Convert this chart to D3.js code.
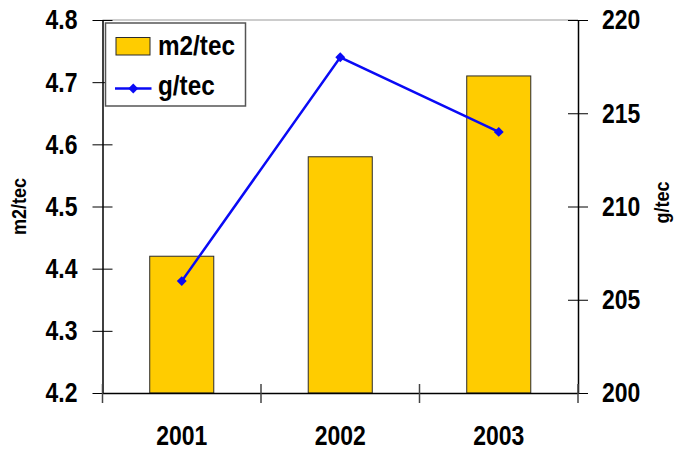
<!DOCTYPE html>
<html>
<head>
<meta charset="utf-8">
<script src="https://cdn.jsdelivr.net/npm/d3@7/dist/d3.min.js"></script>
<style>
  html, body { margin: 0; padding: 0; background: #fff; }
  svg { display: block; }
  text { font-family: "Liberation Sans", Arial, sans-serif; font-weight: bold; fill: #000; }
</style>
</head>
<body>
<script>
// Data
const years = ["2001", "2002", "2003"];
const areaPerTec = [4.42, 4.58, 4.71];   // m2/tec (bars, left axis)
const gramsPerTec = [206, 218, 214];     // g/tec (line, right axis)
const leftTicks = [4.2, 4.3, 4.4, 4.5, 4.6, 4.7, 4.8];
const rightTicks = [200, 205, 210, 215, 220];

const W = 674, H = 452;
const plot = { left: 102.5, right: 578, top: 20, bottom: 393 };
const FONT = "'Liberation Sans', Arial, sans-serif";

// condensed look: squeeze a text element horizontally around its own x
function narrow(sel, k) {
  sel.each(function () {
    const t = d3.select(this);
    const x0 = +t.attr("x") || 0;
    t.attr("x", x0 / k).attr("transform", `scale(${k},1)`);
  });
}

const svg = d3.select("body").append("svg").attr("width", W).attr("height", H);

const x = d3.scaleBand().domain(years).range([plot.left, plot.right]).paddingInner(0).paddingOuter(0);
const yL = d3.scaleLinear().domain([4.2, 4.8]).range([plot.bottom, plot.top]);
const yR = d3.scaleLinear().domain([200, 220]).range([plot.bottom, plot.top]);

// top frame line
svg.append("line")
  .attr("x1", plot.left).attr("x2", plot.right)
  .attr("y1", plot.top).attr("y2", plot.top)
  .attr("stroke", "#9a9a9a").attr("stroke-width", 1);

// bars
const barW = x.bandwidth() * 0.404;
svg.append("g").selectAll("rect").data(years).join("rect")
  .attr("x", (d) => x(d) + x.bandwidth() / 2 - barW / 2)
  .attr("width", barW)
  .attr("y", (d, i) => yL(areaPerTec[i]))
  .attr("height", (d, i) => yL(4.2) - yL(areaPerTec[i]))
  .attr("fill", "#FFCC00")
  .attr("stroke", "#2b2b2b").attr("stroke-width", 1);

// axes
const tickFont = "28px";
const axL = svg.append("g").attr("transform", `translate(${plot.left},0)`)
  .call(d3.axisLeft(yL).tickValues(leftTicks).tickFormat(d3.format(".1f")).tickSizeInner(10).tickSizeOuter(0).tickPadding(15));
const axR = svg.append("g").attr("transform", `translate(${plot.right},0)`)
  .call(d3.axisRight(yR).tickValues(rightTicks).tickFormat(d3.format("d")).tickSizeInner(10).tickSizeOuter(0).tickPadding(14));
const axB = svg.append("g").attr("transform", `translate(0,${plot.bottom})`)
  .call(d3.axisBottom(x).tickSize(0).tickPadding(32));

[axL, axR, axB].forEach(a => {
  a.select(".domain").attr("stroke", "#000").attr("stroke-width", 1.5);
  a.selectAll("text").style("font-size", tickFont).style("font-family", FONT).style("font-weight", "bold").attr("fill", "#000");
  a.selectAll(".tick line").attr("stroke", "#000").attr("stroke-width", 1);
  narrow(a.selectAll(".tick text"), 0.82);
});
// ticks cross the axis lines
axL.selectAll(".tick line").attr("x1", 10).attr("x2", -10);
axR.selectAll(".tick line").attr("x1", -10).attr("x2", 10);
axB.selectAll(".tick text").attr("dy", "0.71em");

// category separators crossing the bottom axis
const sepX = [plot.left, ...years.slice(1).map(d => x(d)), plot.right];
svg.append("g").selectAll("line").data(sepX).join("line")
  .attr("x1", d => d).attr("x2", d => d)
  .attr("y1", plot.bottom - 9).attr("y2", plot.bottom + 10)
  .attr("stroke", "#444").attr("stroke-width", 1.5);

// line series
const cx = (d) => x(d) + x.bandwidth() / 2;
const line = d3.line().x((d, i) => cx(years[i])).y(d => yR(d));
svg.append("path").datum(gramsPerTec)
  .attr("d", line)
  .attr("fill", "none").attr("stroke", "#0A0AF5").attr("stroke-width", 2.5);
svg.append("g").selectAll("rect").data(gramsPerTec).join("rect")
  .attr("x", (d, i) => cx(years[i]) - 3.5)
  .attr("y", d => yR(d) - 3.5)
  .attr("width", 7).attr("height", 7)
  .attr("transform", (d, i) => `rotate(45,${cx(years[i])},${yR(d)})`)
  .attr("fill", "#0A0AF5");

// axis titles
svg.append("text")
  .attr("transform", `translate(26,${(plot.top + plot.bottom) / 2}) rotate(-90) scale(0.9,1)`)
  .attr("text-anchor", "middle")
  .style("font-size", "20px")
  .text("m2/tec");
svg.append("text")
  .attr("transform", `translate(669,${(plot.top + plot.bottom) / 2 - 4}) rotate(-90) scale(0.9,1)`)
  .attr("text-anchor", "middle")
  .style("font-size", "20px")
  .text("g/tec");

// legend
const lg = svg.append("g");
lg.append("rect").attr("x", 105.5).attr("y", 23).attr("width", 140).attr("height", 83)
  .attr("fill", "#fff").attr("stroke", "#555").attr("stroke-width", 1.5);
lg.append("rect").attr("x", 116).attr("y", 37.5).attr("width", 34).attr("height", 17.5)
  .attr("fill", "#FFCC00").attr("stroke", "#2b2b2b").attr("stroke-width", 1);
lg.append("text").attr("x", 158).attr("y", 55).style("font-size", "27px").text("m2/tec");
lg.append("line").attr("x1", 115).attr("x2", 151.5).attr("y1", 88.5).attr("y2", 88.5)
  .attr("stroke", "#0A0AF5").attr("stroke-width", 2.5);
lg.append("rect").attr("x", 133.25 - 3.5).attr("y", 88.5 - 3.5).attr("width", 7).attr("height", 7)
  .attr("transform", "rotate(45,133.25,88.5)").attr("fill", "#0A0AF5");
lg.append("text").attr("x", 158).attr("y", 95).style("font-size", "27px").text("g/tec");
narrow(lg.selectAll("text"), 0.9);
</script>
</body>
</html>
